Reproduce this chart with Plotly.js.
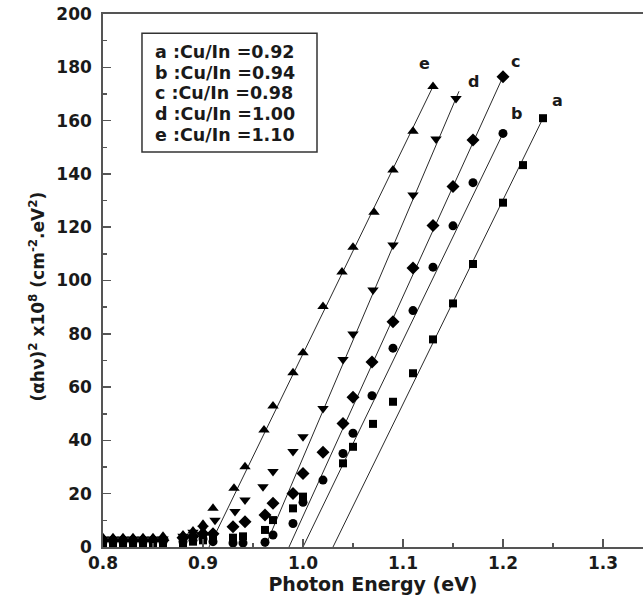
<!DOCTYPE html>
<html>
<head>
<meta charset="utf-8">
<script src="https://cdn.plot.ly/plotly-3.0.1.min.js"></script>
<style>html,body{margin:0;padding:0;background:#fff;}#chart{width:643px;height:603px;}</style>
</head>
<body>
<div id="chart"></div>
<script>
// ---- data ----
const seriesLabels = ['a', 'b', 'c', 'd', 'e'];
const cuInRatios = ['0.92', '0.94', '0.98', '1.00', '1.10'];
const seriesSymbols = ['square', 'circle', 'diamond', 'triangle-down', 'triangle-up'];

const aX = [0.80, 0.81, 0.82, 0.83, 0.84, 0.85, 0.86, 0.88, 0.89, 0.90, 0.91, 0.93, 0.94, 0.962, 0.970, 0.990, 1.000, 1.040, 1.050, 1.070, 1.090, 1.110, 1.130, 1.150, 1.170, 1.200, 1.220, 1.240];
const aY = [1.5, 1.5, 1.5, 1.5, 1.5, 1.5, 1.5, 1.5, 2.0, 2.5, 3.0, 3.5, 4.0, 6.4, 10.1, 14.5, 18.9, 31.4, 37.6, 46.2, 54.5, 65.2, 77.9, 91.4, 106.2, 129.2, 143.3, 160.9];

const bX = [0.80, 0.81, 0.82, 0.83, 0.84, 0.85, 0.86, 0.88, 0.89, 0.90, 0.91, 0.93, 0.94, 0.962, 0.970, 0.990, 1.000, 1.020, 1.040, 1.050, 1.069, 1.090, 1.110, 1.130, 1.150, 1.170, 1.200];
const bY = [2.0, 2.0, 2.0, 2.0, 2.0, 2.0, 2.0, 2.0, 2.5, 3.0, 2.0, 1.5, 1.5, 1.8, 4.5, 8.8, 16.8, 25.1, 35.1, 42.7, 56.8, 74.6, 88.7, 105.0, 120.5, 136.7, 155.2];

const cX = [0.80, 0.81, 0.82, 0.83, 0.84, 0.85, 0.86, 0.88, 0.89, 0.90, 0.91, 0.93, 0.942, 0.962, 0.970, 0.990, 1.000, 1.020, 1.040, 1.050, 1.069, 1.090, 1.110, 1.130, 1.150, 1.170, 1.200];
const cY = [2.5, 2.5, 2.5, 2.5, 2.5, 2.5, 2.5, 3.5, 4.0, 5.0, 5.0, 7.6, 9.5, 12.0, 16.4, 20.1, 27.6, 35.6, 46.3, 56.2, 69.4, 84.5, 104.7, 120.6, 135.3, 152.7, 176.5];

const dX = [0.80, 0.81, 0.82, 0.83, 0.84, 0.85, 0.86, 0.88, 0.89, 0.90, 0.912, 0.932, 0.942, 0.960, 0.970, 0.990, 1.000, 1.020, 1.040, 1.050, 1.070, 1.090, 1.110, 1.133, 1.153];
const dY = [3.0, 3.0, 3.0, 3.0, 3.0, 3.0, 3.0, 4.0, 5.5, 7.0, 10.0, 13.3, 17.6, 22.6, 28.3, 35.8, 41.4, 52.0, 70.4, 79.9, 96.4, 113.3, 132.1, 153.1, 168.3];

const eX = [0.80, 0.81, 0.82, 0.83, 0.84, 0.85, 0.86, 0.88, 0.89, 0.90, 0.91, 0.931, 0.942, 0.961, 0.970, 0.990, 1.000, 1.020, 1.039, 1.050, 1.071, 1.090, 1.110, 1.130];
const eY = [3.5, 3.5, 3.5, 3.5, 3.5, 3.5, 4.0, 4.5, 6.0, 8.5, 14.5, 22.0, 30.1, 43.9, 52.9, 65.4, 72.9, 90.2, 103.2, 112.5, 125.6, 141.5, 156.0, 172.8];

// linear fits (extrapolated to the energy axis)
const aFitX = [1.030, 1.240], aFitY = [0, 160.9];
const bFitX = [1.000, 1.200], bFitY = [0, 155.2];
const cFitX = [0.986, 1.200], cFitY = [0, 176.5];
const dFitX = [0.962, 1.156], dFitY = [0, 171.0];
const eFitX = [0.906, 1.130], eFitY = [0, 172.8];

// curve label positions (end labels)
const curveLabelX = [1.254, 1.213, 1.212, 1.170, 1.121];
const curveLabelY = [167.7, 162.7, 182.0, 174.6, 181.5];

const xTickVals = [0.8, 0.9, 1.0, 1.1, 1.2, 1.3];
const xTickText = ['0.8', '0.9', '1.0', '1.1', '1.2', '1.3'];
const yTickVals = [0, 20, 40, 60, 80, 100, 120, 140, 160, 180, 200];
const yTitleText = '(αhν)<sup>2</sup> x10<sup>8</sup> (cm<sup>-2</sup>.eV<sup>2</sup>)';

// ---- build ----
const FONT = 'DejaVu Sans, Arial, sans-serif';
const INK = '#1a1a1a';
const xs = [aX, bX, cX, dX, eX], ys = [aY, bY, cY, dY, eY];
const fx = [aFitX, bFitX, cFitX, dFitX, eFitX], fy = [aFitY, bFitY, cFitY, dFitY, eFitY];
const markerSizes = [8, 9, 10, 10, 10];

const traces = [];
for (let i = 0; i < 5; i++) {
  traces.push({x: fx[i], y: fy[i], mode: 'lines', line: {color: '#2a2a2a', width: 1}, hoverinfo: 'skip', showlegend: false});
}
for (let i = 0; i < 5; i++) {
  traces.push({x: xs[i], y: ys[i], mode: 'markers', name: seriesLabels[i],
    marker: {symbol: seriesSymbols[i], size: markerSizes[i], color: '#000', line: {width: 0}}, showlegend: false});
}

const annotations = seriesLabels.map((s, i) => ({
  x: curveLabelX[i], y: curveLabelY[i], xref: 'x', yref: 'y', text: s, showarrow: false,
  font: {family: FONT, size: 16, weight: 'bold', color: INK}
}));
// legend box lines (one annotation per line)
const legendLineY = [0.929, 0.889, 0.851, 0.812, 0.773];
seriesLabels.forEach((s, i) => {
  annotations.push({
    xref: 'paper', yref: 'paper', x: 0.092, y: legendLineY[i], xanchor: 'left', yanchor: 'middle', align: 'left', showarrow: false,
    text: s + ' :Cu/In =' + cuInRatios[i],
    font: {family: FONT, size: 17.5, weight: 'bold', color: INK}
  });
});
// y-axis title, placed as in the reference (slightly below the axis centre)
annotations.push({
  xref: 'paper', yref: 'paper', x: -0.122, y: 0.47, xanchor: 'center', yanchor: 'middle', textangle: -90, showarrow: false,
  text: yTitleText, font: {family: FONT, size: 17, weight: 'bold', color: INK}
});

const layout = {
  width: 643, height: 603,
  margin: {l: 103, r: 0, t: 14, b: 56, pad: 0},
  paper_bgcolor: '#fff', plot_bgcolor: '#fff',
  font: {family: FONT, size: 16, weight: 'bold', color: INK},
  xaxis: {
    range: [0.8, 1.34], tickmode: 'array', tickvals: xTickVals, ticktext: xTickText,
    ticks: 'inside', ticklen: 8, tickwidth: 1.5, tickcolor: '#555',
    minor: {dtick: 0.05, tick0: 0.8, ticks: 'inside', ticklen: 4, tickwidth: 1.5, tickcolor: '#555'},
    showline: true, linecolor: '#555', linewidth: 1.8, mirror: true, showgrid: false, zeroline: false,
    tickfont: {family: FONT, size: 17, weight: 'bold', color: INK},
    title: {text: 'Photon Energy (eV)', font: {family: FONT, size: 19, weight: 'bold', color: INK}, standoff: 4}
  },
  yaxis: {
    range: [0, 200], tickmode: 'array', tickvals: yTickVals,
    ticks: 'inside', ticklen: 8, tickwidth: 1.5, tickcolor: '#555',
    minor: {dtick: 10, tick0: 0, ticks: 'inside', ticklen: 4, tickwidth: 1.5, tickcolor: '#555'},
    showline: true, linecolor: '#555', linewidth: 1.8, mirror: false, showgrid: false, zeroline: false,
    ticklabelstandoff: 6,
    tickfont: {family: FONT, size: 17, weight: 'bold', color: INK}
  },
  shapes: [{type: 'rect', xref: 'paper', yref: 'paper', x0: 0.0722, x1: 0.3963, y0: 0.741, y1: 0.964,
    line: {color: '#333', width: 1.5}, fillcolor: 'rgba(0,0,0,0)'}],
  annotations: annotations
};

Plotly.newPlot('chart', traces, layout, {staticPlot: true, displayModeBar: false});
</script>
</body>
</html>
